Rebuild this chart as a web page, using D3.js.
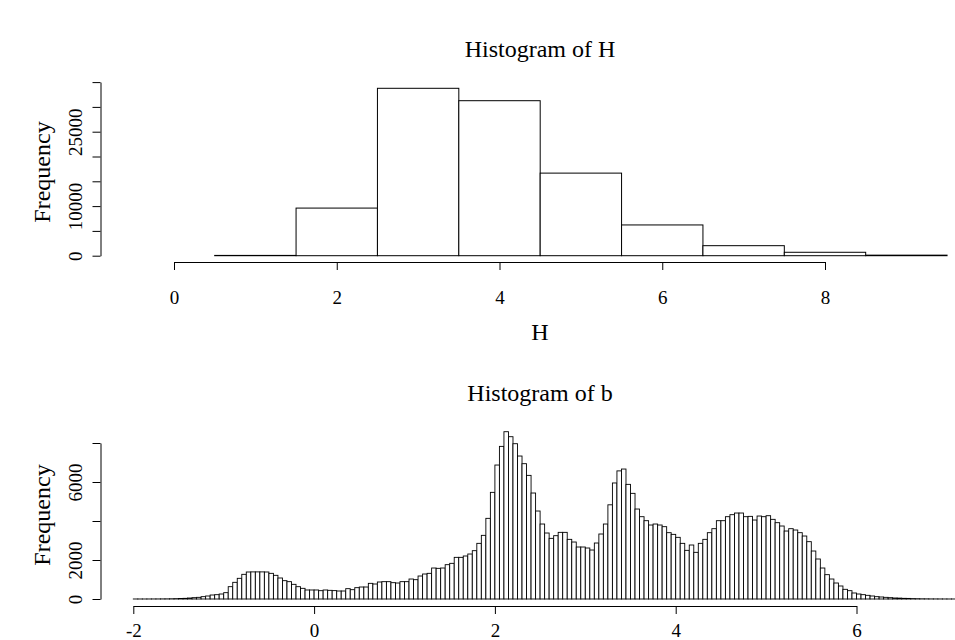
<!DOCTYPE html>
<html>
<head>
<meta charset="utf-8">
<script src="https://cdn.jsdelivr.net/npm/d3@7"></script>
<style>
  body { margin: 0; background: #fff; }
  svg text { font-family: "Liberation Serif", "Times New Roman", serif; fill: #000; }
</style>
</head>
<body>
<div id="chart"></div>
<script>
// ---- Histogram of H (bins of width 1)
const hEdges = [-0.5, 0.5, 1.5, 2.5, 3.5, 4.5, 5.5, 6.5, 7.5, 8.5, 9.5]
const hCounts = [0, 60, 9600, 33750, 31250, 16650, 6200, 2020, 690, 110]
const hTicksX = [0, 2, 4, 6, 8]
const hTicksY = [0, 5000, 10000, 15000, 20000, 25000, 30000, 35000]
const hLabelsY = [0, 10000, 25000]

// ---- Histogram of b (bins of width 0.05 starting at -2.35)
const bStart = -2.35
const bWidth = 0.05
const bCounts = [
  0, 0, 0, 0, 0, 0, 0, 1, 1,
  1, 2, 3, 4, 6, 8, 12, 18, 25,
  34, 50, 68, 85, 120, 154, 205, 222, 256, 325,
  632, 855, 1060, 1265, 1385, 1390, 1390, 1390, 1385, 1316,
  1214, 1077, 940, 889, 752, 632, 547, 462, 462, 462,
  427, 462, 444, 430, 410, 410, 530, 478, 581, 615,
  615, 803, 769, 872, 889, 889, 837, 820, 889, 889,
  1025, 991, 1179, 1282, 1316, 1589, 1572, 1589, 1760, 1829,
  2136, 2136, 2205, 2307, 2478, 2854,
  3264, 4136, 5469, 6870, 7827, 8579, 8323, 7964, 7332, 6939,
  6340, 5435, 4512, 3845, 3384, 3110, 3247, 3418, 3418, 3059,
  2922, 2666, 2666, 2615, 2512, 2871, 3333, 3845, 4830, 5950,
  6570, 6665,
  5879, 5418, 4614, 4221, 4016, 3794, 3845, 3794, 3709, 3401,
  3315, 3162, 2854, 2495, 2769, 2393, 2854, 3059, 3401, 3606,
  4016, 4016, 4221, 4324, 4409, 4409, 4221, 4238, 4050, 4255,
  4221, 4272, 4085, 3914, 3743, 3486, 3606, 3538, 3401, 3230,
  2940, 2461, 2051, 1589, 1248, 1025, 820, 667, 496, 427,
  308, 256, 222, 188, 154, 120, 103, 85, 68, 51,
  45, 34, 30, 20, 15, 10, 8, 5, 4, 3,
  2, 1, 1
]
const bTicksX = [-2, 0, 2, 4, 6]
const bTicksY = [0, 2000, 4000, 6000, 8000]
const bLabelsY = [0, 2000, 6000]

const W = 955
const H = 640

const svg = d3.select('#chart').append('svg')
  .attr('width', W).attr('height', H)
  .attr('viewBox', `0 0 ${W} ${H}`)
svg.append('rect').attr('width', W).attr('height', H).attr('fill', '#fff')

const drawHist = ({ bins, x, y, ticksX, ticksY, labelsY, axisY, axisX, title, titleY, tickY, xlab, xlabY, ylabY, strokeW }) => {
  const g = svg.append('g')

  g.selectAll('rect.bar').data(bins).enter().append('rect')
    .attr('class', 'bar')
    .attr('x', d => x(d.x0))
    .attr('width', d => x(d.x1) - x(d.x0))
    .attr('y', d => y(d.n))
    .attr('height', d => y(0) - y(d.n))
    .attr('fill', '#fff')
    .attr('stroke', '#000')
    .attr('stroke-width', strokeW)

  const xa = g.append('g')
    .attr('transform', `translate(0,${axisY})`)
    .call(d3.axisBottom(x).tickValues(ticksX).tickSize(8).tickSizeOuter(0).tickFormat(d => d))
  xa.attr('font-size', null).attr('font-family', null)
  xa.selectAll('text')
    .attr('y', tickY - axisY).attr('dy', null)
    .style('font-size', '19px')

  const ya = g.append('g')
    .attr('transform', `translate(${axisX},0)`)
    .call(d3.axisLeft(y).tickValues(ticksY).tickSize(8).tickSizeOuter(0)
      .tickFormat(d => labelsY.includes(d) ? d : ''))
  ya.attr('font-size', null).attr('font-family', null)
  ya.selectAll('text')
    .attr('transform', 'rotate(-90)')
    .attr('x', 0).attr('y', -(axisX - 82)).attr('dy', null)
    .attr('text-anchor', 'middle')
    .style('font-size', '19px')

  g.selectAll('.domain, .tick line').attr('stroke', '#000')

  g.append('text')
    .attr('x', 540).attr('y', titleY)
    .attr('text-anchor', 'middle')
    .style('font-size', '24px')
    .text(title)

  if (xlab) {
    g.append('text')
      .attr('x', 540).attr('y', xlabY)
      .attr('text-anchor', 'middle')
      .style('font-size', '24px')
      .text(xlab)
  }

  g.append('text')
    .attr('transform', `translate(50,${ylabY}) rotate(-90)`)
    .attr('text-anchor', 'middle')
    .style('font-size', '24px')
    .text('Frequency')
}

// top panel
const hBins = hCounts.map((n, i) => ({ x0: hEdges[i], x1: hEdges[i + 1], n }))
drawHist({
  bins: hBins,
  x: d3.scaleLinear().domain([0, 8]).range([174, 825]),
  y: d3.scaleLinear().domain([0, 35000]).range([255.7, 82.1]),
  ticksX: hTicksX,
  ticksY: hTicksY,
  labelsY: hLabelsY,
  axisY: 262,
  axisX: 100.5,
  title: 'Histogram of H',
  titleY: 57,
  tickY: 304,
  xlab: 'H',
  xlabY: 340,
  ylabY: 172,
  strokeW: 1
})

// bottom panel
const bBins = bCounts.map((n, i) => ({ x0: bStart + i * bWidth, x1: bStart + (i + 1) * bWidth, n }))
drawHist({
  bins: bBins,
  x: d3.scaleLinear().domain([-2, 6]).range([133.3, 856.5]),
  y: d3.scaleLinear().domain([0, 8000]).range([599, 443]),
  ticksX: bTicksX,
  ticksY: bTicksY,
  labelsY: bLabelsY,
  axisY: 606,
  axisX: 100.5,
  title: 'Histogram of b',
  titleY: 401,
  tickY: 637,
  xlab: null,
  ylabY: 515,
  strokeW: 0.9
})
</script>
</body>
</html>
